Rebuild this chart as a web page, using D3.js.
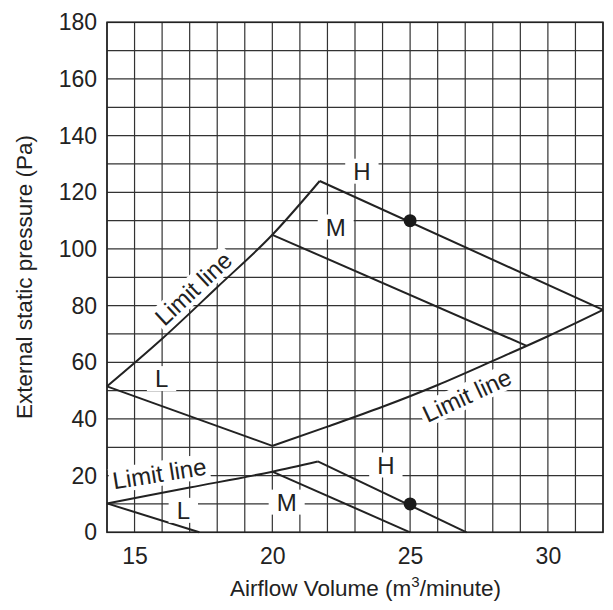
<!DOCTYPE html>
<html>
<head>
<meta charset="utf-8">
<script src="https://cdn.jsdelivr.net/npm/d3@7"></script>
<style>
  body { margin: 0; background: #fff; }
  svg text { font-family: "Liberation Sans", Arial, sans-serif; fill: #222; }
</style>
</head>
<body>
<div id="chart-area"></div>
<script>
// fan curves, [airflow m3/min, pressure Pa]
const upperLimitA = [[14, 51.5], [16, 68.3], [18, 86.5], [20, 105], [21.72, 124]]
const upperLimitB = [[20, 30.5], [22, 37.3], [24, 44.3], [26, 52], [28, 60.5], [30, 69.2], [32, 78.5]]
const upperH = [[21.72, 124], [32, 78.5]]
const upperM = [[20, 105], [29.23, 65.8]]
const upperL = [[14, 51.5], [20, 30.5]]

const lowerLimit = [[14, 10.2], [17, 15.8], [20, 21.4], [21.65, 25]]
const lowerH = [[21.65, 25], [27.05, 0]]
const lowerM = [[20, 21.4], [25, 0]]
const lowerL = [[14, 10.2], [17.35, 0]]

const points = [[25, 110], [25, 10]]

const xTicks = [15, 20, 25, 30]
const yTicks = [0, 20, 40, 60, 80, 100, 120, 140, 160, 180]

// label text, position in data units, rotation
const labels = [
    { text: "H", x: 23.25, y: 127.5, rot: 0 },
    { text: "M", x: 22.3, y: 107.8, rot: 0 },
    { text: "L", x: 15.98, y: 54.3, rot: 0 },
    { text: "Limit line", x: 17.13, y: 86.1, rot: -43 },
    { text: "Limit line", x: 27.06, y: 48.4, rot: -25 },
    { text: "Limit line", x: 15.9, y: 20.8, rot: -9 },
    { text: "L", x: 16.77, y: 7.8, rot: 0 },
    { text: "M", x: 20.52, y: 10.7, rot: 0 },
    { text: "H", x: 24.12, y: 23.8, rot: 0 }
]

const W = 613, H = 610
const svg = d3.select("#chart-area").append("svg")
    .attr("width", W)
    .attr("height", H)

const x = d3.scaleLinear().domain([14, 32]).range([107, 603])
const y = d3.scaleLinear().domain([0, 180]).range([532.3, 22.3])

// grid
const grid = svg.append("g")
grid.selectAll("line.v").data(d3.range(14, 33))
    .enter().append("line")
    .attr("class", "v")
    .attr("x1", d => x(d)).attr("x2", d => x(d))
    .attr("y1", y(0)).attr("y2", y(180))
    .attr("stroke", "#333").attr("stroke-width", 1.2)
grid.selectAll("line.h").data(d3.range(0, 190, 10))
    .enter().append("line")
    .attr("class", "h")
    .attr("x1", x(14)).attr("x2", x(32))
    .attr("y1", d => y(d)).attr("y2", d => y(d))
    .attr("stroke", "#333").attr("stroke-width", 1.2)

svg.append("rect")
    .attr("x", x(14)).attr("y", y(180))
    .attr("width", x(32) - x(14)).attr("height", y(0) - y(180))
    .attr("fill", "none").attr("stroke", "#222").attr("stroke-width", 1.6)

// axes
const yAxisCall = d3.axisLeft(y).tickValues(yTicks).tickSize(0).tickPadding(10)
svg.append("g")
    .attr("transform", `translate(${x(14)}, 0)`)
    .call(yAxisCall)
    .call(g => g.select(".domain").remove())
    .selectAll("text")
    .attr("font-size", "23px")
    .attr("font-family", "Liberation Sans, Arial, sans-serif")
    .attr("fill", "#222")

const xAxisCall = d3.axisBottom(x).tickValues(xTicks).tickSize(0).tickPadding(15)
svg.append("g")
    .attr("transform", `translate(0, ${y(0)})`)
    .call(xAxisCall)
    .call(g => g.select(".domain").remove())
    .selectAll("text")
    .attr("font-size", "23px")
    .attr("font-family", "Liberation Sans, Arial, sans-serif")
    .attr("fill", "#222")

// axis titles
const xTitle = svg.append("text")
    .attr("x", 365.5)
    .attr("y", 596)
    .attr("text-anchor", "middle")
    .attr("font-size", "22.5px")
xTitle.append("tspan").text("Airflow Volume (m")
xTitle.append("tspan").attr("dy", -9).attr("font-size", "15px").text("3")
xTitle.append("tspan").attr("dy", 9).text("/minute)")

svg.append("text")
    .attr("transform", "translate(32, 277) rotate(-90)")
    .attr("text-anchor", "middle")
    .attr("font-size", "22.5px")
    .text("External static pressure (Pa)")

// curves
const line = d3.line().x(d => x(d[0])).y(d => y(d[1]))
const curved = d3.line().x(d => x(d[0])).y(d => y(d[1])).curve(d3.curveMonotoneX)

const straight = [upperH, upperM, upperL, lowerH, lowerM, lowerL]
svg.selectAll("path.seg").data(straight)
    .enter().append("path")
    .attr("class", "seg")
    .attr("d", line)
    .attr("fill", "none").attr("stroke", "#222").attr("stroke-width", 2)

svg.selectAll("path.lim").data([upperLimitA, upperLimitB, lowerLimit])
    .enter().append("path")
    .attr("class", "lim")
    .attr("d", curved)
    .attr("fill", "none").attr("stroke", "#222").attr("stroke-width", 2)

svg.selectAll("circle").data(points)
    .enter().append("circle")
    .attr("cx", d => x(d[0]))
    .attr("cy", d => y(d[1]))
    .attr("r", 6.5)
    .attr("fill", "#1a1a1a")

// labels with white knock-out boxes
labels.forEach(l => {
    const g = svg.append("g")
        .attr("transform", `translate(${x(l.x)}, ${y(l.y)}) rotate(${l.rot})`)
    const bg = g.append("rect").attr("fill", "#fff")
    const t = g.append("text")
        .attr("text-anchor", "middle")
        .attr("dy", "0.36em")
        .attr("font-size", "24px")
        .text(l.text)
    const b = t.node().getBBox()
    const padX = l.text.length > 1 ? 3 : 8
    bg.attr("x", b.x - padX).attr("y", b.y + 1)
        .attr("width", b.width + 2 * padX).attr("height", b.height - 2)
})
</script>
</body>
</html>
